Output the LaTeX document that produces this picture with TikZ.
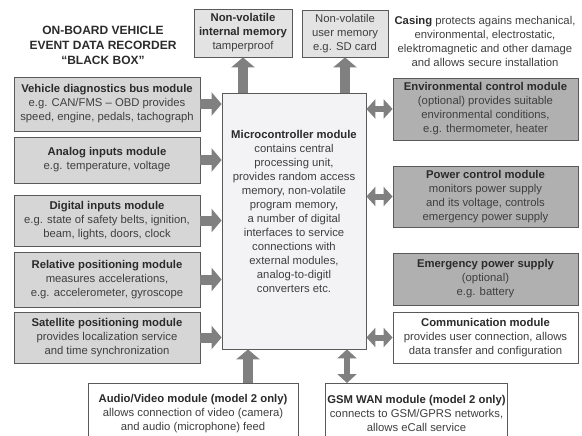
\documentclass[tikz,border=0pt]{standalone}
\usepackage{fontspec}
\setmainfont{Liberation Sans}
\usetikzlibrary{arrows.meta}

\definecolor{txtdark}{HTML}{2B2B2B}
\definecolor{txtgray}{HTML}{3F3F3F}
\definecolor{boxline}{HTML}{5A5A5A}
\definecolor{inputfill}{HTML}{D6D6D6}
\definecolor{memfill}{HTML}{E3E3E3}
\definecolor{darkfill}{HTML}{B0B0B0}
\definecolor{mcfill}{HTML}{F3F3F5}
\definecolor{arrowgray}{HTML}{808080}

\tikzset{
  every node/.style={font=\fontsize{11.3pt}{14pt}\selectfont, text=txtgray},
  modbox/.style={draw=boxline, line width=0.8pt, align=center, inner sep=2pt},
  inbox/.style={modbox, fill=inputfill, minimum width=186pt},
  outbox/.style={modbox, fill=darkfill, minimum width=185pt},
  membox/.style={modbox, fill=memfill},
  inarrow/.style={draw=arrowgray, line width=10pt, -{Triangle[length=10pt,width=23pt]}},
  biarrow/.style={draw=arrowgray, line width=6pt, {Triangle[length=9pt,width=19pt]}-{Triangle[length=9pt,width=19pt]}}
}

\begin{document}
\begin{tikzpicture}[x=1pt,y=-1pt]

\clip (0,0) rectangle (582,436);

% Title
\node [align=center, text=txtdark, font=\fontsize{12pt}{15pt}\selectfont\bfseries] (title) at (103,45)
  {ON-BOARD VEHICLE\\EVENT DATA RECORDER\\``BLACK BOX''};

% Memories and casing along the top
\node [membox, minimum width=98pt, minimum height=48pt] (intmem) at (243,33)
  {\textbf{\color{txtdark}Non-volatile}\\\textbf{\color{txtdark}internal memory}\\tamperproof};
\node [membox, minimum width=86pt, minimum height=47pt] (usermem) at (345,33.5)
  {Non-volatile\\user memory\\e.g. SD card};
\node [align=center] (casing) at (485,41)
  {\textbf{\color{txtdark}Casing} protects agains mechanical,\\environmental, electrostatic,\\elektromagnetic and other damage\\and allows secure installation};

% Microcontroller in the middle
\node [modbox, fill=mcfill, minimum width=144pt, minimum height=256pt] (micro) at (294,221) {};
\node [align=center] (microtxt) at ([yshift=10pt]micro.center)
  {\textbf{\color{txtdark}Microcontroller module}\\contains central\\processing unit,\\provides random access\\memory, non-volatile\\program memory,\\a number of digital\\interfaces to service\\connections with\\external modules,\\analog-to-digitl\\converters etc.};

% Input modules on the left
\node [inbox, minimum height=54pt] (vdb) at (107,104)
  {\textbf{\color{txtdark}Vehicle diagnostics bus module}\\e.g. CAN/FMS -- OBD provides\\speed, engine, pedals, tachograph};
\node [inbox, minimum height=46pt] (ain) at (107,160)
  {\textbf{\color{txtdark}Analog inputs module}\\e.g. temperature, voltage};
\node [inbox, minimum height=51pt] (din) at (107,220.5)
  {\textbf{\color{txtdark}Digital inputs module}\\e.g. state of safety belts, ignition,\\beam, lights, doors, clock};
\node [inbox, minimum height=55pt] (rel) at (107,279.5)
  {\textbf{\color{txtdark}Relative positioning module}\\measures accelerations,\\e.g. accelerometer, gyroscope};
\node [inbox, minimum height=51pt] (sat) at (107,337.5)
  {\textbf{\color{txtdark}Satellite positioning module}\\provides localization service\\and time synchronization};

% Modules on the right
\node [outbox, minimum height=62pt] (env) at (485.5,109)
  {\textbf{\color{txtdark}Environmental control module}\\(optional) provides suitable\\environmental conditions,\\e.g. thermometer, heater};
\node [outbox, minimum height=61pt] (pwr) at (485.5,196.5)
  {\textbf{\color{txtdark}Power control module}\\monitors power supply\\and its voltage, controls\\emergency power supply};
\node [outbox, minimum height=52pt] (emg) at (485.5,279)
  {\textbf{\color{txtdark}Emergency power supply}\\(optional)\\e.g. battery};
\node [modbox, fill=white, minimum width=185pt, minimum height=51pt] (com) at (485.5,337.5)
  {\textbf{\color{txtdark}Communication module}\\provides user connection, allows\\data transfer and configuration};

% Modules at the bottom (cut off by the page)
\node [modbox, fill=white, anchor=north, minimum width=210pt, minimum height=60pt] (av) at (193,383)
  {\textbf{\color{txtdark}Audio/Video module (model 2 only)}\\allows connection of video (camera)\\and audio (microphone) feed};
\node [modbox, fill=white, anchor=north, minimum width=163pt, minimum height=60pt] (gsm) at (416.5,383)
  {\textbf{\color{txtdark}GSM WAN module (model 2 only)}\\connects to GSM/GPRS networks,\\allows eCall service};

% Arrows into the microcontroller
\foreach \m in {vdb,ain,din,rel,sat}
  \draw [inarrow] (\m.east) -- (\m.east -| micro.west);
\draw [inarrow] ([xshift=-46pt]micro.south |- av.north) -- ([xshift=-46pt]micro.south);

% Arrows out to the memories
\draw [inarrow] (intmem.south |- micro.north) -- (intmem.south);
\draw [inarrow] (usermem.south |- micro.north) -- (usermem.south);

% Two-way links
\foreach \m in {env,pwr,com}
  \draw [biarrow] (\m.west -| micro.east) -- (\m.west);
\draw [biarrow] ([xshift=53pt]micro.south) -- ([xshift=53pt]micro.south |- gsm.north);

\end{tikzpicture}
\end{document}
